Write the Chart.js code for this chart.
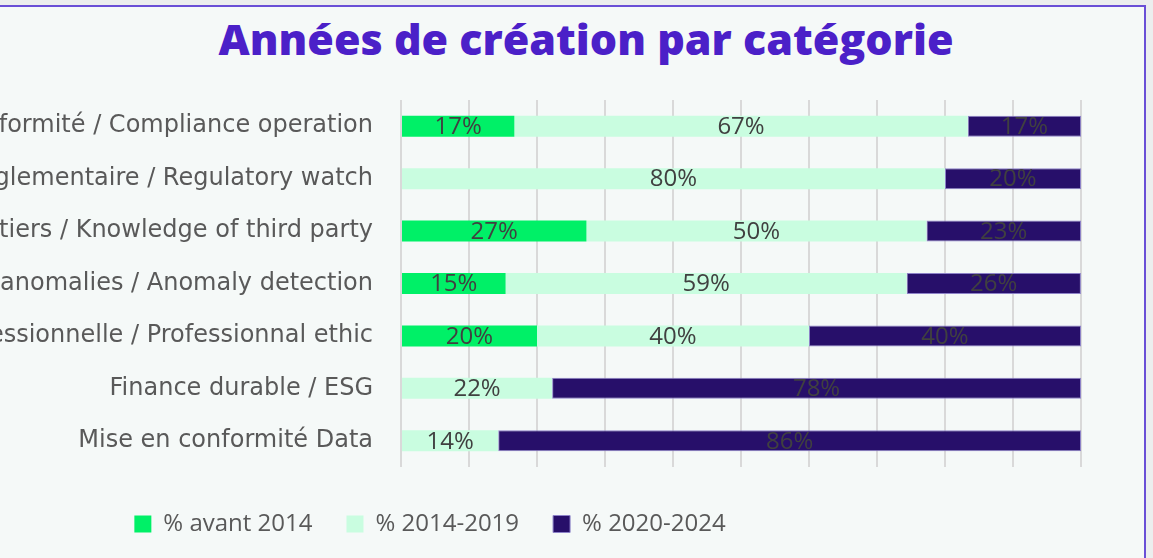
<!DOCTYPE html>
<html>
<head>
<meta charset="utf-8">
<script src="https://cdn.jsdelivr.net/npm/chart.js@4"></script>
<style>
  html, body { margin:0; padding:0; width:1153px; height:558px; overflow:hidden; background:#eceeee; }
  #card { position:absolute; left:-30px; top:5px; width:1176px; height:560px; box-sizing:border-box;
          background:#f5f9f8; border-top:2px solid #6a4fd6; border-right:2px solid #6a4fd6; }
  #title { position:absolute; left:0; width:1172px; top:9px; text-align:center;
           font-family:"Open Sans", sans-serif; font-weight:800; font-size:43px; color:#4b20c8; white-space:nowrap; }
  #wrap { position:absolute; left:-221px; top:0; width:1364px; height:546px; }
</style>
</head>
<body>
<div id="card"></div>
<div id="title">Années de création par catégorie</div>
<div id="wrap"><canvas id="c"></canvas></div>
<script>
const categories = [
  "Mise en conformité / Compliance operation",
  "Veille réglementaire / Regulatory watch",
  "Connaissance des tiers / Knowledge of third party",
  "Détection des anomalies / Anomaly detection",
  "Déontologie professionnelle / Professionnal ethic",
  "Finance durable / ESG",
  "Mise en conformité Data"
];
const seriesNames = ["% avant 2014", "% 2014-2019", "% 2020-2024"];
const avant2014 = [16.67, 0, 27.27, 15.38, 20, 0, 0];
const p2014_2019 = [66.67, 80, 50, 58.97, 40, 22.22, 14.29];
const p2020_2024 = [16.67, 20, 22.73, 25.64, 40, 77.78, 85.71];
const xTicks = [0, 10, 20, 30, 40, 50, 60, 70, 80, 90, 100];

const FONT = '"Open Sans", sans-serif';
const LABEL_FONT = '"DejaVu Sans", sans-serif';

const barLabels = {
  id: 'barLabels',
  afterDatasetsDraw(chart) {
    const ctx = chart.ctx;
    ctx.save();
    ctx.font = '24px ' + FONT;
    ctx.fillStyle = '#404040';
    ctx.textAlign = 'center';
    ctx.textBaseline = 'middle';
    chart.data.datasets.forEach((ds, di) => {
      const meta = chart.getDatasetMeta(di);
      meta.data.forEach((bar, i) => {
        const v = ds.data[i];
        if (!v) return;
        const cx = (bar.x + bar.base) / 2;
        ctx.fillText(Math.round(v) + '%', cx, bar.y + 1);
      });
    });
    ctx.restore();
  }
};

new Chart(document.getElementById('c'), {
  type: 'bar',
  data: {
    labels: categories,
    datasets: [
      { label: seriesNames[0], data: avant2014, backgroundColor: '#00f067', borderWidth: 0 },
      { label: seriesNames[1], data: p2014_2019, backgroundColor: '#c9fde0', borderWidth: 0 },
      { label: seriesNames[2], data: p2020_2024, backgroundColor: '#270f6a', borderColor: '#8d82c8', borderWidth: 1, borderSkipped: false }
    ]
  },
  options: {
    indexAxis: 'y',
    responsive: true,
    maintainAspectRatio: false,
    animation: false,
    categoryPercentage: 0.4,
    barPercentage: 1,
    layout: { padding: { top: 100, right: 62, left: 0, bottom: 0 } },
    scales: {
      x: {
        stacked: true, min: 0, max: 100,
        afterBuildTicks(scale) { scale.ticks = xTicks.map(v => ({ value: v })); },
        afterFit(scale) { scale.height = 11; },
        ticks: { display: false },
        grid: { color: '#d9d9d9', lineWidth: 2, drawTicks: false },
        border: { display: false }
      },
      y: {
        stacked: true,
        afterFit(scale) { scale.width = 622; },
        grid: { display: false },
        border: { display: false },
        ticks: { color: '#595959', padding: 20, font: { family: LABEL_FONT, size: 24 } }
      }
    },
    plugins: {
      legend: {
        position: 'bottom',
        labels: { boxWidth: 17, boxHeight: 17, padding: 34, color: '#595959', font: { family: FONT, size: 24 } }
      },
      tooltip: { enabled: false },
      title: { display: false }
    }
  },
  plugins: [barLabels]
});
</script>
</body>
</html>
